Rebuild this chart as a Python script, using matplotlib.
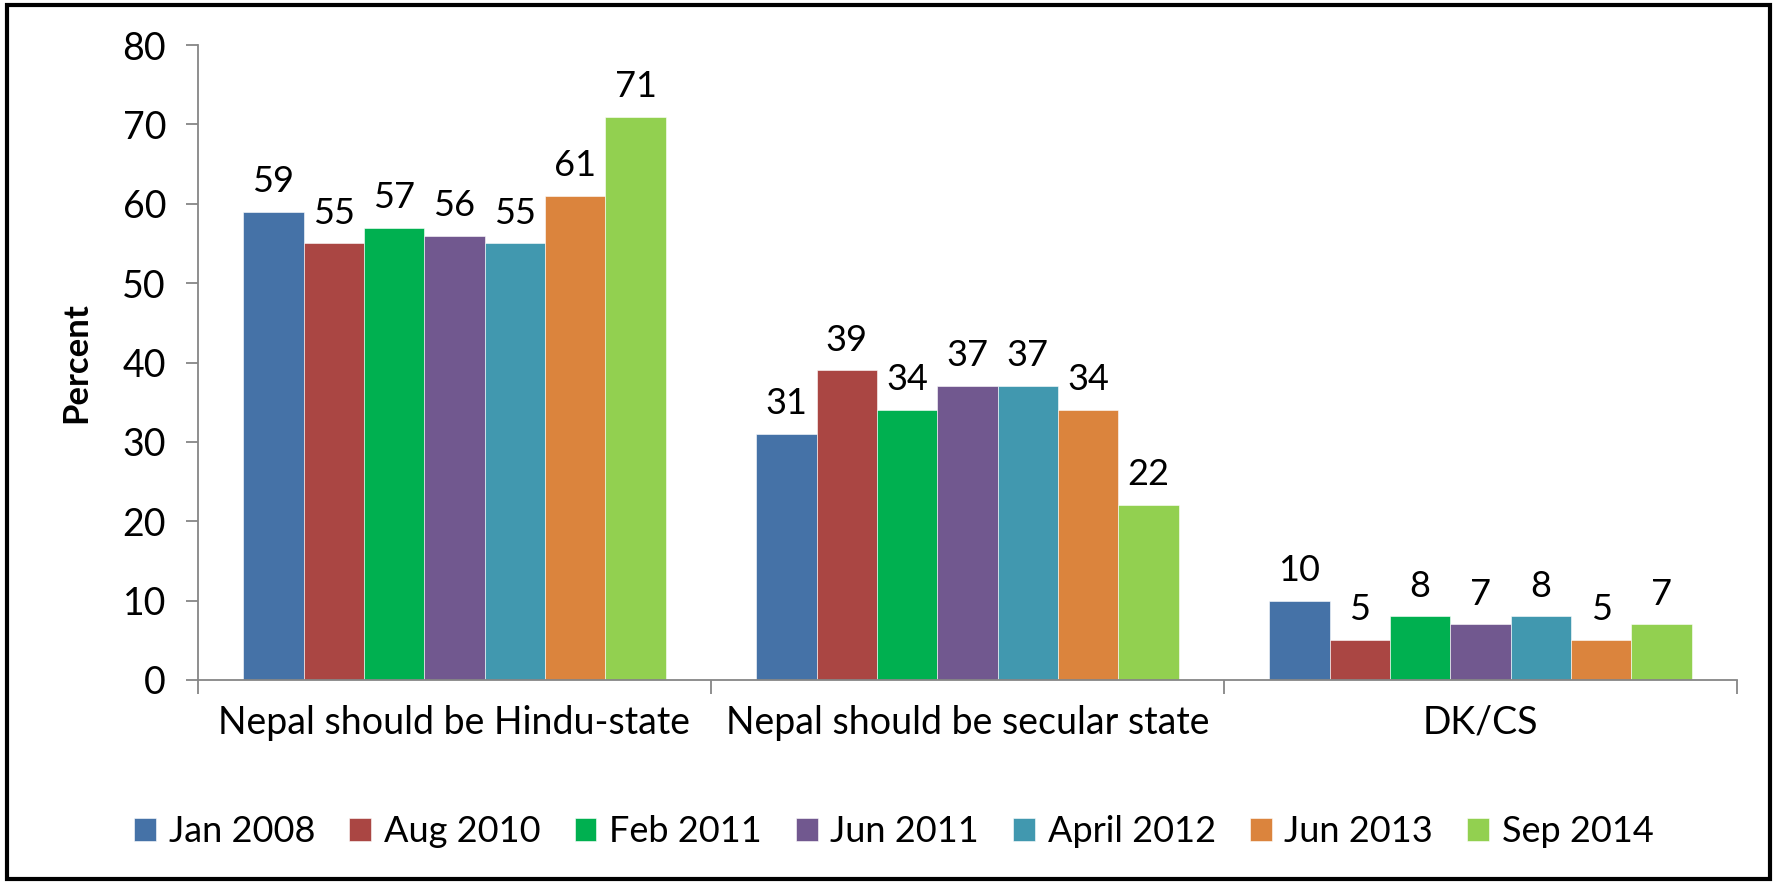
import numpy as np
import matplotlib
matplotlib.use("Agg")
import matplotlib.pyplot as plt
from matplotlib.patches import Rectangle

plt.rcParams['font.family'] = ['Lato', 'DejaVu Sans']

categories = ['Nepal should be Hindu-state', 'Nepal should be secular state', 'DK/CS']
series_names = ['Jan 2008', 'Aug 2010', 'Feb 2011', 'Jun 2011', 'April 2012', 'Jun 2013', 'Sep 2014']
jan_2008 = [59, 31, 10]
aug_2010 = [55, 39, 5]
feb_2011 = [57, 34, 8]
jun_2011 = [56, 37, 7]
apr_2012 = [55, 37, 8]
jun_2013 = [61, 34, 5]
sep_2014 = [71, 22, 7]
colors = ['#4572A7', '#AA4643', '#00B050', '#71588F', '#4198AF', '#DB843D', '#92D050']

series = [jan_2008, aug_2010, feb_2011, jun_2011, apr_2012, jun_2013, sep_2014]

fig = plt.figure(figsize=(17.77, 8.84), dpi=100)
ax = fig.add_axes([0.1114, 0.2308, 0.9775 - 0.1114, 0.949 - 0.2308])

n = len(series)
w = 1.0 / (n + 1.5)
x = np.arange(len(categories))
for i, (vals, name, c) in enumerate(zip(series, series_names, colors)):
    pos = x + (i - (n - 1) / 2) * w
    bars = ax.bar(pos, vals, width=w, color=c, label=name, edgecolor='white', linewidth=0.4)
    for b, v in zip(bars, vals):
        ax.annotate(str(v), (b.get_x() + b.get_width() / 2, v), xytext=(0, 10),
                    textcoords='offset points', ha='center', va='bottom', fontsize=26)

ax.set_xlim(-0.5, len(categories) - 0.5)
ax.set_ylim(0, 80)
ax.set_yticks(range(0, 81, 10))
ax.tick_params(axis='y', labelsize=27, length=9, color='#868686', width=1.3, pad=14)
ax.set_xticks(x)
ax.set_xticklabels(categories, fontsize=27)
ax.tick_params(axis='x', which='major', length=0, pad=18)
ax.set_xticks(np.arange(len(categories) + 1) - 0.5, minor=True)
ax.tick_params(axis='x', which='minor', length=10, color='#868686', width=1.3)
for s in ['top', 'right']:
    ax.spines[s].set_visible(False)
for s in ['left', 'bottom']:
    ax.spines[s].set_color('#868686')
    ax.spines[s].set_linewidth(1.3)
ax.set_ylabel('Percent', fontsize=25, fontweight='bold', labelpad=22)

leg = fig.legend(loc='center', bbox_to_anchor=(0.503, 0.059), ncol=7, frameon=False,
                 fontsize=26, handlelength=0.6, handleheight=0.6, handletextpad=0.35,
                 columnspacing=0.95)

fig.patches.append(Rectangle((0.004, 0.006), 0.992, 0.988, transform=fig.transFigure,
                             fill=False, edgecolor='black', linewidth=3))

fig.savefig('out.png', dpi=100)
